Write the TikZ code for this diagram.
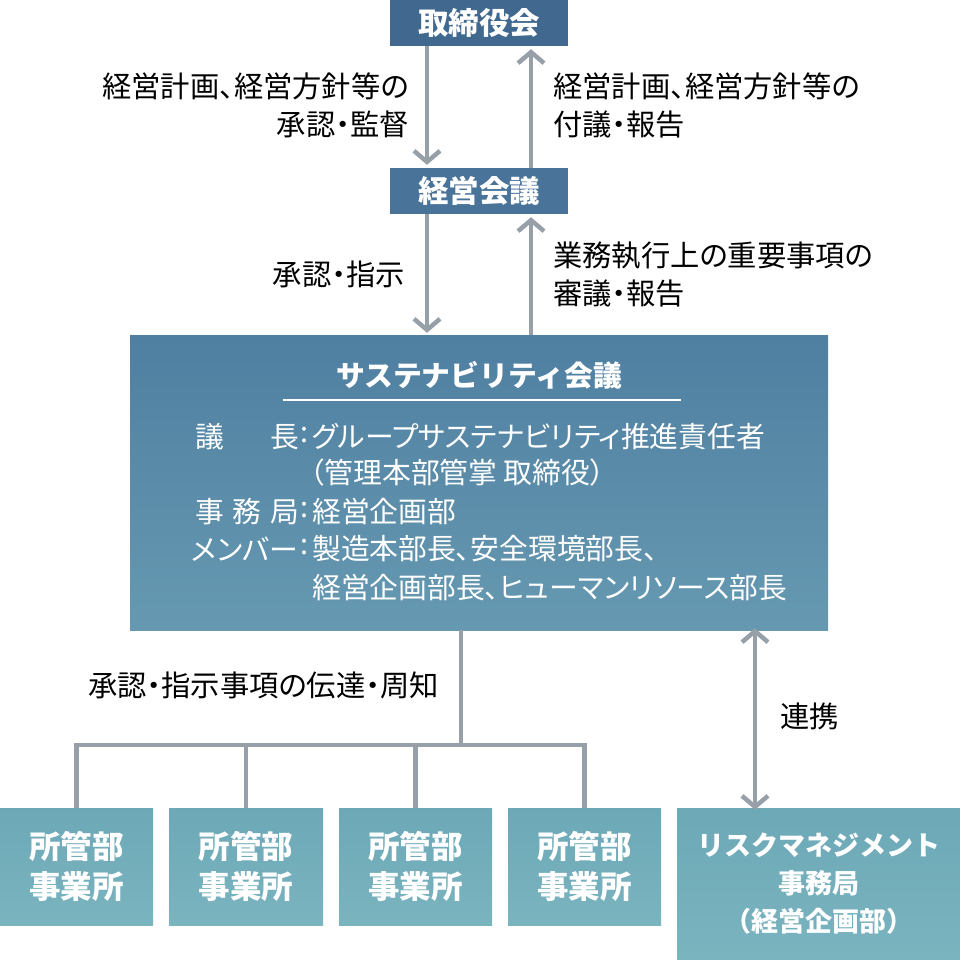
\documentclass[tikz,border=0pt]{standalone}
\usepackage{fontspec}
\setmainfont{Noto Sans CJK JP}
\newfontfamily\pf{Noto Sans CJK JP}[RawFeature=+palt]
\usetikzlibrary{arrows.meta}
\definecolor{topblue}{HTML}{41688F}
\definecolor{midblue}{HTML}{4A7399}
\definecolor{bigtop}{HTML}{4F7FA1}
\definecolor{bigbot}{HTML}{6699B1}
\definecolor{teal1}{HTML}{6DA8B7}
\definecolor{teal2}{HTML}{7AB4BF}
\definecolor{conn}{HTML}{97A0A9}
\tikzset{
  hbox/.style={fill=#1, text=white, font=\fontsize{30.5}{30}\selectfont\bfseries, minimum width=178pt, minimum height=46pt, inner sep=0pt},
  subbox/.style={top color=teal1, bottom color=teal2, draw=none, text=white, font=\fontsize{31.5}{40}\selectfont\bfseries, align=center, inner sep=0pt},
  lbl/.style={font=\pf\fontsize{29.3}{38}\selectfont, inner sep=0pt, text=black},
  wlbl/.style={font=\pf\fontsize{28.8}{38}\selectfont, inner sep=0pt, text=white},
  conline/.style={draw=conn, line width=4.5pt},
  arr/.style={conline, -{Straight Barb[length=11pt,width=26pt,line width=4.5pt]}},
  darr/.style={conline, {Straight Barb[length=11pt,width=26pt,line width=4.5pt]}-{Straight Barb[length=11pt,width=26pt,line width=4.5pt]}}
}
\begin{document}
\begin{tikzpicture}[x=1pt,y=-1pt]
\useasboundingbox (0,0) rectangle (960,960);
% top boxes
\node[hbox=topblue] (board) at (479,23) {取締役会};
\node[hbox=midblue] (mgmt) at (479,191) {経営会議};
% big box
\node[top color=bigtop, bottom color=bigbot, minimum width=698pt, minimum height=295pt, inner sep=0pt] (sus) at (479,482.5) {};
\node[text=white, font=\fontsize{28.8}{30}\selectfont\bfseries, inner sep=0pt] (sustitle) at (479,375) {サステナビリティ会議};
\coordinate (ulA) at (283,400);
\coordinate (ulB) at (681,400);
\draw[white, line width=1.2pt] (ulA) -- (ulB);
% rows
\node[wlbl, anchor=west] (r1a) at (195,437) {議};
\node[wlbl, anchor=west] (r1b) at (270,437) {長};
\node[wlbl] (r1c) at (304,435) {:};
\node[wlbl, anchor=west] (r1d) at (312,437) {グループサステナビリティ推進責任者};
\node[wlbl, anchor=west] (r2d) at (310,473) {（管理本部管掌 取締役）};
\node[wlbl, anchor=west] (r3a) at (195,512) {事};
\node[wlbl, anchor=west] (r3b) at (232,512) {務};
\node[wlbl, anchor=west] (r3c) at (270,512) {局};
\node[wlbl] (r3e) at (304,510) {:};
\node[wlbl, anchor=west] (r3d) at (312,512) {経営企画部};
\node[wlbl, anchor=east] (r4a) at (298,549) {メンバー};
\node[wlbl] (r4e) at (304,547) {:};
\node[wlbl, anchor=west] (r4d) at (312,549) {製造本部長、安全環境部長、};
\node[wlbl, anchor=west] (r5d) at (312,588) {経営企画部長、ヒューマンリソース部長};
% bottom boxes
\node[subbox, minimum width=153pt, minimum height=117pt] (b1) at (76.5,866.5) {所管部\\事業所};
\node[subbox, minimum width=154pt, minimum height=117pt] (b2) at (246,866.5) {所管部\\事業所};
\node[subbox, minimum width=153pt, minimum height=117pt] (b3) at (415.5,866.5) {所管部\\事業所};
\node[subbox, minimum width=153pt, minimum height=117pt] (b4) at (584.5,866.5) {所管部\\事業所};
\node[subbox, minimum width=283pt, minimum height=152pt, font=\fontsize{27}{38}\selectfont\bfseries] (risk) at (818.5,884) {リスクマネジメント\\事務局\\（経営企画部）};
% arrows between top boxes
\draw[arr] ([xshift=-52pt]board.south) -- ([xshift=-52pt,yshift=3pt]mgmt.north);
\draw[arr] ([xshift=52pt]mgmt.north) -- ([xshift=52pt,yshift=-3pt]board.south);
\draw[arr] ([xshift=-52pt]mgmt.south) -- ([xshift=-52pt,yshift=2pt]sus.north);
\draw[arr] ([xshift=52pt]sus.north) -- ([xshift=52pt,yshift=-3pt]mgmt.south);
% labels
\node[lbl, align=right, anchor=east] (l1) at (409,105) {経営計画、経営方針等の\\承認・監督};
\node[lbl, align=left, anchor=west] (l2) at (553,105) {経営計画、経営方針等の\\付議・報告};
\node[lbl, anchor=east] (l3) at (405,274) {承認・指示};
\node[lbl, align=left, anchor=west] (l4) at (553,274) {業務執行上の重要事項の\\審議・報告};
\node[lbl, anchor=west] (l5) at (88,685) {承認・指示事項の伝達・周知};
\node[lbl, anchor=west] (l6) at (780,716) {連携};
% tree
\coordinate (split) at (461,745);
\draw[conline] ([xshift=-18pt]sus.south) -- (split);
\draw[conline, line cap=rect] (b1.north |- split) -- (b4.north |- split);
\draw[conline] (b1.north |- split) -- (b1.north);
\draw[conline] (b2.north |- split) -- (b2.north);
\draw[conline] (b3.north |- split) -- (b3.north);
\draw[conline] (b4.north |- split) -- (b4.north);
% double arrow
\draw[darr] ([xshift=276pt,yshift=2pt]sus.south) -- ([xshift=-63.5pt,yshift=-2pt]risk.north);
\end{tikzpicture}
\end{document}
